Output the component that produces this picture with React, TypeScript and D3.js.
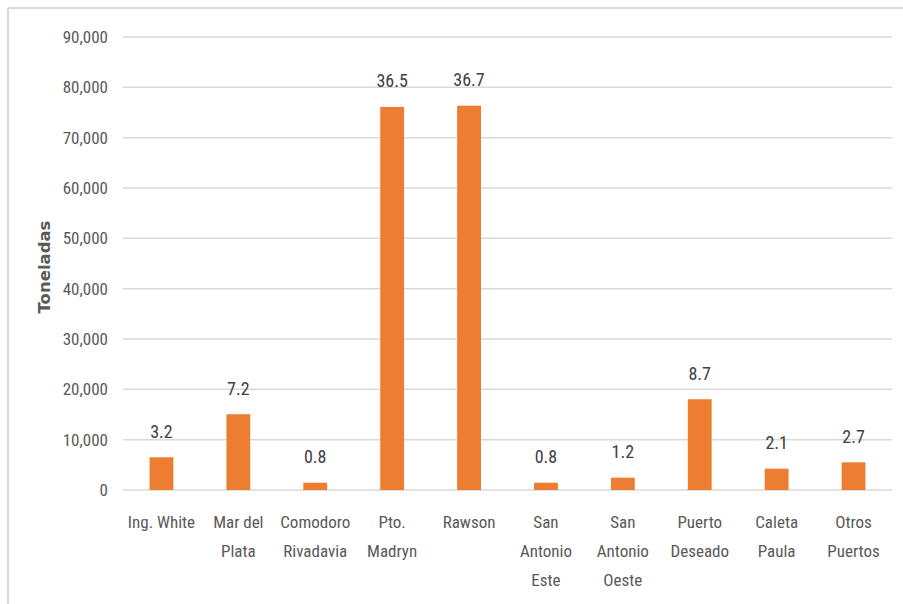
import React from "react";
import * as d3 from "d3";

const categories: string[][] = [
  ["Ing. White"],
  ["Mar del", "Plata"],
  ["Comodoro", "Rivadavia"],
  ["Pto.", "Madryn"],
  ["Rawson"],
  ["San", "Antonio", "Este"],
  ["San", "Antonio", "Oeste"],
  ["Puerto", "Deseado"],
  ["Caleta", "Paula"],
  ["Otros", "Puertos"],
];
const tonnes: number[] = [6500, 15050, 1450, 76100, 76350, 1450, 2450, 18030, 4240, 5500];
const shareLabels: string[] = ["3.2", "7.2", "0.8", "36.5", "36.7", "0.8", "1.2", "8.7", "2.1", "2.7"];
const yTicks: number[] = [0, 10000, 20000, 30000, 40000, 50000, 60000, 70000, 80000, 90000];

const W = 903;
const H = 604;
const FONT = "'Liberation Sans Narrow', 'Roboto Condensed', Roboto, sans-serif";

export default function App() {
  const x0 = 123, x1 = 892, yTop = 37, yBot = 490;
  const x = d3.scaleBand<number>().domain(d3.range(categories.length)).range([x0, x1]).paddingInner(0.69).paddingOuter(0.345);
  const y = d3.scaleLinear().domain([0, 90000]).range([yBot, yTop]);
  const fmt = d3.format(",");
  return (
    <svg width={W} height={H} style={{ position: "absolute", left: 0, top: 0, background: "#fff" }}>
      <line x1={8} y1={8} x2={W} y2={8} stroke="#d9d9d9" strokeWidth={2} />
      <line x1={8} y1={8} x2={8} y2={H} stroke="#d9d9d9" strokeWidth={2} />
      {yTicks.map((t) => (
        <g key={t}>
          <line x1={x0} x2={x1} y1={y(t)} y2={y(t)} stroke="#d9d9d9" strokeWidth={1.5} />
          <text x={108} y={y(t)} dy="0.35em" textAnchor="end" fontFamily={FONT} fontSize={17} fill="#595959">
            {fmt(t)}
          </text>
        </g>
      ))}
      <text
        transform={`translate(50,267) rotate(-90)`}
        textAnchor="middle"
        fontFamily="'DejaVu Sans', Verdana, sans-serif"
        fontWeight="bold"
        fontSize={16.5}
        fill="#595959"
      >
        Toneladas
      </text>
      {tonnes.map((v, i) => {
        const bx = x(i)!;
        const bw = x.bandwidth();
        return (
          <g key={i}>
            <rect x={bx} y={y(v)} width={bw} height={yBot - y(v)} fill="#ed7d31" />
            <text x={bx + bw / 2} y={y(v) - 26} dy="0.35em" textAnchor="middle" fontFamily={FONT} fontSize={18} fill="#404040">
              {shareLabels[i]}
            </text>
            {categories[i].map((line, j) => (
              <text
                key={j}
                x={bx + bw / 2}
                y={522 + j * 29}
                dy="0.35em"
                textAnchor="middle"
                fontFamily={FONT}
                fontSize={17}
                fill="#595959"
              >
                {line}
              </text>
            ))}
          </g>
        );
      })}
    </svg>
  );
}
